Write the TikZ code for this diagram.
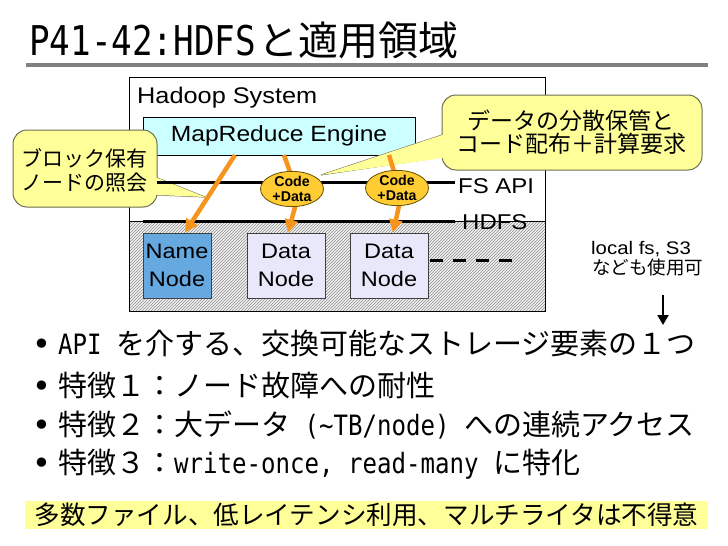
\documentclass[tikz,border=0pt]{standalone}
\usepackage{fontspec}
\setmainfont[FakeStretch=1.12]{Liberation Sans}
\newfontfamily\jp{Noto Sans CJK JP}
\newfontfamily\hwt[FakeStretch=0.835]{DejaVu Sans Mono}
\newfontfamily\hwb[FakeStretch=0.86]{DejaVu Sans Mono}
\newfontfamily\dv{DejaVu Sans}
\newfontfamily\cdfont[FakeStretch=1.0]{Liberation Sans}
\usetikzlibrary{shapes.geometric,arrows.meta,patterns,calc}
\definecolor{mrcyan}{HTML}{CCFFFF}
\definecolor{nnblue}{HTML}{66A8E0}
\definecolor{dnlav}{HTML}{E8E8FA}
\definecolor{cdgold}{HTML}{FFCC33}
\definecolor{cdedge}{HTML}{6B5000}
\definecolor{orarr}{HTML}{F7941D}
\definecolor{callY}{HTML}{FFFF99}
\definecolor{callE}{HTML}{6E6E50}
\definecolor{hlY}{HTML}{FFFF99}
\definecolor{rulegray}{HTML}{808080}
\tikzset{
  nodebox/.style={draw=black!75, line width=0.8pt, minimum height=65, minimum width=78, inner sep=0, align=center, font=\fontsize{21}{28}\selectfont},
  codedata/.style={ellipse, draw=cdedge, line width=0.8pt, fill=cdgold, minimum width=63, minimum height=33, inner sep=0, align=center, font=\cdfont\bfseries\fontsize{14.2}{14.5}\selectfont},
  orangearrow/.style={draw=orarr, line width=4.5pt},
  orangehead/.style={orangearrow, -{Triangle[length=13pt,width=13pt]}},
  layerline/.style={draw=black, line width=3pt},
  calloutbody/.style={draw=callE, line width=1pt, fill=callY, rounded corners=14pt},
  callwedge/.style={draw=callE, line width=1pt, fill=callY},
  bullettext/.style={anchor=base west, inner sep=0, font=\fontsize{29}{29}\selectfont},
  bulletdot/.style={anchor=base, inner sep=0, font=\dv\fontsize{32}{32}\selectfont},
  lbl/.style={inner sep=0}
}
\begin{document}
\begin{tikzpicture}[x=1pt,y=-1pt]
\useasboundingbox[fill=white] (0,0) rectangle (728,546);

% title
\node[anchor=base west, inner sep=0] (title) at (29,55)
  {{\hwt\fontsize{41}{41}\selectfont P41-42:HDFS}\hspace{3pt}{\jp\fontsize{40}{40}\selectfont と適用領域}};
\coordinate (rl) at (26,65);
\coordinate (rr) at (708,65);
\draw[rulegray, line width=3.5pt] (rl) -- (rr);

% Hadoop system container
\fill[black!5] (129,221) rectangle (545,311);
\fill[pattern=north east lines, pattern color=black!45] (129,221) rectangle (545,311);
\draw[black, line width=0.7pt] (129,221) -- (545,221);
\node[draw=black, line width=0.8pt, minimum width=416, minimum height=234, inner sep=0] (hadoop) at (337,194) {};
\node[anchor=base west, lbl, font=\fontsize{22.6}{24}\selectfont] (hslabel) at (137,103) {Hadoop System};

% MapReduce engine
\node[draw=black, line width=0.8pt, fill=mrcyan, minimum width=272, minimum height=38, inner sep=0, font=\fontsize{22}{24}\selectfont] (mr) at (279,136) {MapReduce Engine};

% nodes
\node[nodebox, fill=nnblue, minimum width=68] (nn) at (177,265.5) {Name\\Node};
\node[nodebox, fill=dnlav] (dn1) at (286,265.5) {Data\\Node};
\node[nodebox, fill=dnlav] (dn2) at (389,265.5) {Data\\Node};
\coordinate (dashend) at (520,260);
\draw[black, line width=3pt, dash pattern=on 13pt off 10pt] (dn2.east |- dashend) ++(2,0) -- (dashend);

% callout 1
\coordinate (c1tip) at (205,197);
\draw[callwedge] (155,177) -- (c1tip) -- (157,195) -- cycle;
\node[calloutbody, minimum width=144, minimum height=77, inner sep=0] (call1) at (85,168.5) {};
\fill[callY] (150,175) -- (c1tip) -- (150,194.7) -- cycle;
\node[lbl, align=center, font=\jp\fontsize{21}{24}\selectfont] (call1t) at (84,170) {ブロック保有\\ノードの照会};

% callout 2
\coordinate (c2tip) at (321,175);
\draw[callwedge] (442,135) -- (c2tip) -- (442,157) -- cycle;
\node[calloutbody, minimum width=260, minimum height=75, inner sep=0] (call2) at (572,132.5) {};
\fill[callY] (446,133.7) -- (c2tip) -- (446,157.6) -- cycle;
\node[lbl, align=center, font=\jp\fontsize{23}{23}\selectfont] (call2t) at (571,132.5) {データの分散保管と\\コード配布＋計算要求};

% layer lines
\coordinate (fsl) at (157,182);
\coordinate (fsr) at (455,182);
\draw[layerline] (fsl) -- (fsr);
\node[anchor=west, lbl, font=\fontsize{21.4}{24}\selectfont] (fsapi) at (458,186) {FS API};
\coordinate (hdl) at (143,221);
\coordinate (hdr) at (455,221);
\draw[layerline] (hdl) -- (hdr);
\node[anchor=west, lbl, font=\fontsize{21.4}{24}\selectfont] (hdfs) at (462,222) {HDFS};

% code+data ellipses (positions)
\coordinate (cd1) at (292,189);
\coordinate (cd2) at (397,188);

% orange arrows
\coordinate (a1s) at (235,155);
\draw[orangehead] (a1s) -- ($(nn.north)+(8,0)$);
\coordinate (a2s) at (284,155);
\draw[orangearrow] (a2s) -- ($(cd1)+(4,0)$);
\draw[orangehead] ($(cd1)+(8,0)$) -- ($(dn1.north)+(2,0)$);
\coordinate (a3s) at (389,155);
\draw[orangearrow] (a3s) -- ($(cd2)+(2,0)$);
\draw[orangehead] ($(cd2)+(6,0)$) -- ($(dn2.north)+(4,0)$);
\node[codedata] (cdA) at (cd1) {Code\\+Data};
\node[codedata] (cdB) at (cd2) {Code\\+Data};

% local fs note
\node[anchor=west, lbl, font=\fontsize{18.2}{20}\selectfont] (localfs) at (591,249) {local fs, S3};
\node[anchor=west, lbl, font=\jp\fontsize{18.5}{20}\selectfont] (usable) at (592,267) {なども使用可};
\coordinate (bas) at (663,295);
\coordinate (bae) at (663,325);
\draw[black, line width=2pt, -{Triangle[length=10pt,width=11pt]}] (bas) -- (bae);

% bullets
\node[bulletdot] (b1) at (42,355) {•};
\node[bullettext] (t1) at (58,354) {{\hwb\fontsize{28}{28}\selectfont API }{\jp を介する、交換可能なストレージ要素の１つ}};
\node[bulletdot] (b2) at (42,397) {•};
\node[bullettext] (t2) at (58,396) {{\jp 特徴１：ノード故障への耐性}};
\node[bulletdot] (b3) at (42,436) {•};
\node[bullettext] (t3) at (58,435) {{\jp 特徴２：大データ}{\hwb\fontsize{28}{28}\selectfont\ (\char"7E TB/node)\ }{\jp への連続アクセス}};
\node[bulletdot] (b4) at (42,474) {•};
\node[bullettext] (t4) at (58,473) {{\jp 特徴３：}{\hwb\fontsize{28}{28}\selectfont write-once, read-many }{\jp に特化}};

% highlight
\node[fill=hlY, minimum width=683, minimum height=28, inner sep=0, font=\jp\fontsize{25.6}{26}\selectfont] (hl) at (366.5,515) {多数ファイル、低レイテンシ利用、マルチライタは不得意};
\end{tikzpicture}
\end{document}
